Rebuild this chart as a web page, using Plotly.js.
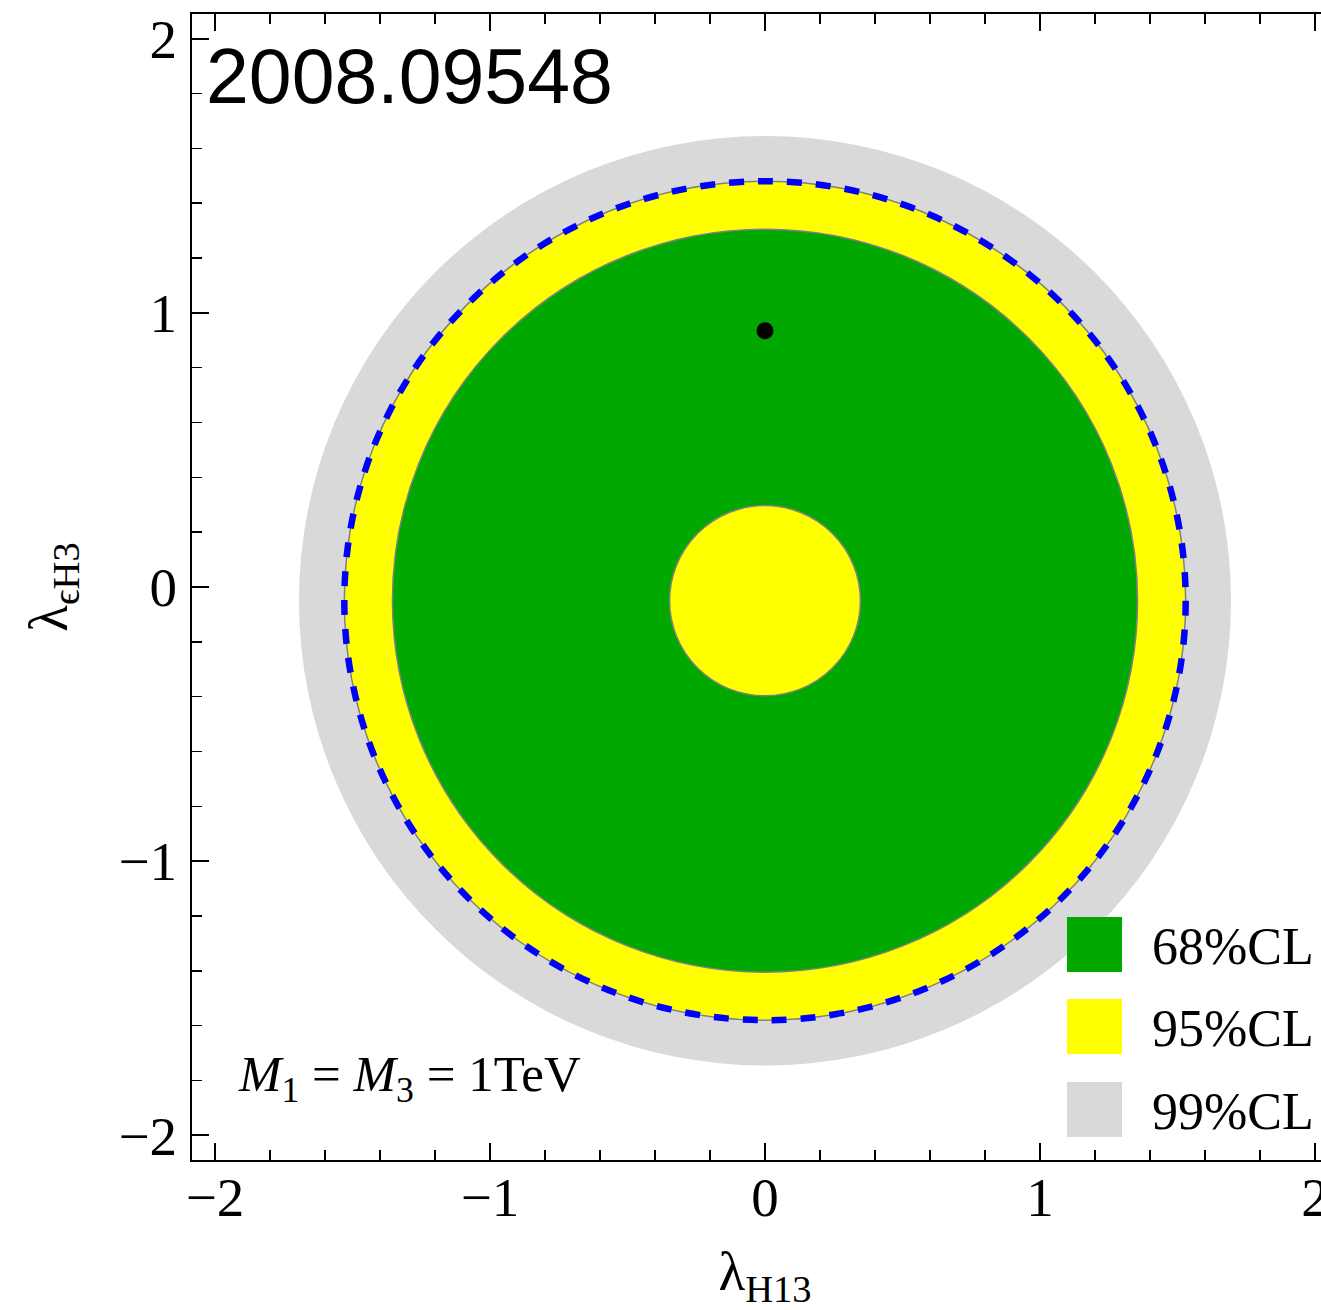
<!DOCTYPE html>
<html>
<head>
<meta charset="utf-8">
<script src="https://cdn.plot.ly/plotly-3.0.1.min.js"></script>
<style>
html,body{margin:0;padding:0;overflow:hidden;background:#fff;}
#plot{width:1340px;height:1310px;}
</style>
</head>
<body>
<div id="plot"></div>
<script>
// ---- data ----
const clLabels = ['68%CL', '95%CL', '99%CL'];
const clColors = ['#00A800', '#FFFF00', '#D9D9D9'];
const centerX = [0];
const centerY = [-0.05];
const outerRadius = [1.355, 1.53, 1.695];   // outer edge of 68%, 95%, 99% regions
const innerHoleRadius = [0.347];            // inner 95% disc inside the 68% ring
const dashedRadius = [1.53];                // blue dashed contour
const bestFitX = [0];
const bestFitY = [0.935];
const xTickVals = [-2, -1, 0, 1, 2];
const yTickVals = [-2, -1, 0, 1, 2];
const paperId = '2008.09548';
const massNote = '<i>M</i><sub>1</sub>\u2005=\u2005<i>M</i><sub>3</sub>\u2005=\u20051TeV';

// ---- layout geometry ----
const L = 192, T = 14, W = 1340, H = 1310, R = 2, B = 150;
const plotW = W - L - R, plotH = H - T - B;
const px2x = p => (p - L) / plotW;
const px2y = p => (H - B - p) / plotH;

const edge = 'rgb(128,128,128)';
function disc(r, fill, withEdge) {
  return {
    type: 'circle', xref: 'x', yref: 'y', layer: 'below',
    x0: centerX[0] - r, x1: centerX[0] + r,
    y0: centerY[0] - r, y1: centerY[0] + r,
    fillcolor: fill,
    line: withEdge ? {color: edge, width: 1.5} : {width: 0}
  };
}

const shapes = [
  disc(outerRadius[2], clColors[2], false),
  disc(outerRadius[1], clColors[1], true),
  disc(outerRadius[0], clColors[0], true),
  disc(innerHoleRadius[0], clColors[1], true),
  {
    type: 'circle', xref: 'x', yref: 'y', layer: 'above',
    x0: centerX[0] - dashedRadius[0], x1: centerX[0] + dashedRadius[0],
    y0: centerY[0] - dashedRadius[0], y1: centerY[0] + dashedRadius[0],
    fillcolor: 'rgba(0,0,0,0)',
    line: {color: '#0000FF', width: 6.5, dash: '15px,14px'}
  }
];

// legend drawn as paper-space squares + labels
const legTop = [917, 999, 1082];
const annotations = [];
clLabels.forEach((lab, i) => {
  shapes.push({
    type: 'rect', xref: 'paper', yref: 'paper', layer: 'above',
    x0: px2x(1067), x1: px2x(1122),
    y0: px2y(legTop[i] + 55), y1: px2y(legTop[i]),
    fillcolor: clColors[i], line: {width: 0}
  });
  annotations.push({
    xref: 'paper', yref: 'paper', x: px2x(1150), y: px2y(legTop[i] + 29),
    xanchor: 'left', yanchor: 'middle', showarrow: false, text: lab,
    font: {family: 'Liberation Serif, Times New Roman, serif', size: 52, color: '#000'}
  });
});

annotations.push({
  xref: 'paper', yref: 'paper', x: px2x(204), y: px2y(76),
  xanchor: 'left', yanchor: 'middle', showarrow: false, text: paperId,
  font: {family: 'Liberation Sans, Arial, sans-serif', size: 77, color: '#000'}
});
annotations.push({
  xref: 'paper', yref: 'paper', x: px2x(236), y: px2y(1078),
  xanchor: 'left', yanchor: 'middle', showarrow: false, text: massNote,
  font: {family: 'Liberation Serif, Times New Roman, serif', size: 51, color: '#000'}
});

const traces = [{
  type: 'scatter', mode: 'markers', x: bestFitX, y: bestFitY,
  marker: {color: '#000', size: 17}, showlegend: false, hoverinfo: 'skip'
}];

const tickFont = {family: 'Liberation Serif, Times New Roman, serif', size: 55, color: '#000'};
const axisCommon = {
  showgrid: false, zeroline: false, showline: true, mirror: 'ticks',
  linecolor: '#000', linewidth: 2,
  ticks: 'inside', ticklen: 17, tickwidth: 2, tickcolor: '#000',
  tickfont: tickFont, tickmode: 'array',
  minor: {ticks: 'inside', ticklen: 10, tickwidth: 1.5, tickcolor: '#000', dtick: 0.2, showgrid: false}
};

const layout = {
  width: W, height: H,
  margin: {l: L, r: R, t: T, b: B, pad: 0},
  paper_bgcolor: '#fff', plot_bgcolor: '#fff',
  showlegend: false,
  xaxis: Object.assign({}, axisCommon, {
    range: [-2.084, 2.084], tickvals: xTickVals,
    ticktext: xTickVals.map(v => (v < 0 ? '\u2212' + (-v) : '' + v)),
    ticklabelstandoff: -12,
    title: {text: 'λ<sub>H13</sub>', font: {family: 'Liberation Serif, Times New Roman, serif', size: 55, color: '#000'}, standoff: 34}
  }),
  yaxis: Object.assign({}, axisCommon, {
    range: [-2.09, 2.09], tickvals: yTickVals,
    ticktext: yTickVals.map(v => (v < 0 ? '\u2212' + (-v) : '' + v)),
    ticklabelstandoff: 2,
    title: {text: 'λ<sub>ϵH3</sub>', font: {family: 'Liberation Serif, Times New Roman, serif', size: 55, color: '#000'}, standoff: 33}
  }),
  shapes: shapes,
  annotations: annotations
};

Plotly.newPlot('plot', traces, layout, {displayModeBar: false, staticPlot: true});
</script>
</body>
</html>
